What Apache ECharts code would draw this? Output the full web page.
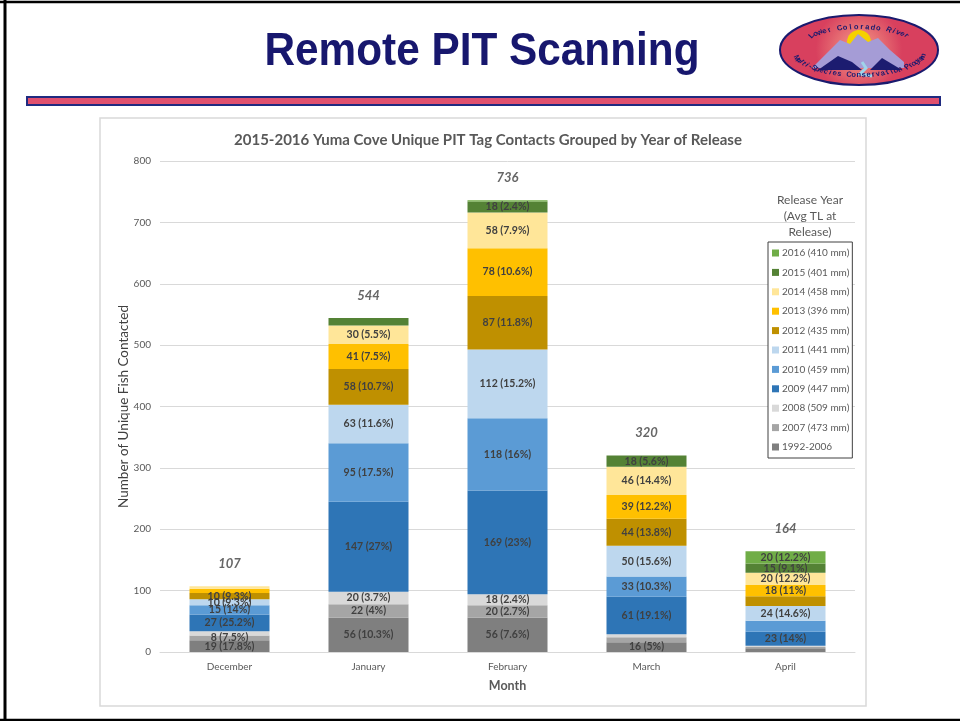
<!DOCTYPE html>
<html lang="en">
<head>
    <meta charset="UTF-8">
    <title>Remote PIT Scanning</title>
    <script src="https://cdn.jsdelivr.net/npm/echarts@6/dist/echarts.min.js"></script>
    <style>
        html, body { margin: 0; padding: 0; background: #fff; }
        #chart { width: 960px; height: 721px; }
    </style>
</head>
<body>
    <div id="chart"></div>
    <script>
        // months on the x axis
        const months = ['December', 'January', 'February', 'March', 'April'];

        // fish contacted per release group, one value per month
        const rel1992_2006 = [19, 56, 56, 16, 6];
        const rel2007 = [8, 22, 20, 8, 2];
        const rel2008 = [7, 20, 18, 5, 2];
        const rel2009 = [27, 147, 169, 61, 23];
        const rel2010 = [15, 95, 118, 33, 18];
        const rel2011 = [10, 63, 112, 50, 24];
        const rel2012 = [10, 58, 87, 44, 16];
        const rel2013 = [7, 41, 78, 39, 18];
        const rel2014 = [4, 30, 58, 46, 20];
        const rel2015 = [0, 12, 18, 18, 15];
        const rel2016 = [0, 0, 2, 0, 20];

        // legend names, bottom of the stack first
        const groupNames = [
            '1992-2006', '2007 (473 mm)', '2008 (509 mm)', '2009 (447 mm)', '2010 (459 mm)',
            '2011 (441 mm)', '2012 (435 mm)', '2013 (396 mm)', '2014 (458 mm)',
            '2015 (401 mm)', '2016 (410 mm)'
        ];
        const groupColors = [
            '#7f7f7f', '#a5a5a5', '#d9d9d9', '#2e75b6', '#5b9bd5',
            '#bdd7ee', '#bf9000', '#ffc000', '#ffe699', '#548235', '#70ad47'
        ];
        const groupValues = [rel1992_2006, rel2007, rel2008, rel2009, rel2010,
            rel2011, rel2012, rel2013, rel2014, rel2015, rel2016];

        // segments that carry no label in the original (group index, month index)
        const unlabeled = [
            [2, 0], [7, 0], [8, 0],
            [9, 1],
            [10, 2],
            [1, 3], [2, 3],
            [0, 4], [1, 4], [2, 4], [4, 4], [6, 4]
        ];

        const totals = months.map((m, i) => groupValues.reduce((s, arr) => s + arr[i], 0));

        function pct(v, total) {
            return String(Math.round(v / total * 1000) / 10);
        }

        const chart = echarts.init(document.getElementById('chart'));

        const barSeries = groupNames.map((name, g) => ({
            name: name,
            type: 'bar',
            stack: 'all',
            barWidth: 80,
            itemStyle: { color: groupColors[g] },
            data: groupValues[g].map((v, m) => {
                const hide = v === 0 || unlabeled.some(p => p[0] === g && p[1] === m);
                return { value: v, label: { show: !hide } };
            }),
            label: {
                position: 'inside',
                color: '#404040',
                fontSize: 10.5,
                fontWeight: 'bold',
                fontFamily: 'Lato',
                formatter: p => p.value + ' (' + pct(p.value, totals[p.dataIndex]) + '%)'
            }
        }));

        // total on top of each column
        barSeries.push({
            name: 'total',
            type: 'scatter',
            symbolSize: 0,
            data: totals,
            silent: true,
            label: {
                show: true,
                position: 'top',
                distance: 16,
                color: '#404040',
                fontSize: 13,
                fontStyle: 'italic',
                fontWeight: 'bold',
                fontFamily: 'Lato',
                formatter: p => String(p.value)
            }
        });

        // logo text placed letter by letter along the ellipse
        function arcText(text, cx, cy, rx, ry, a0, a1, top) {
            const out = [];
            const n = text.length;
            for (let i = 0; i < n; i++) {
                const a = a0 + (a1 - a0) * (i + 0.5) / n;
                const x = cx + rx * Math.cos(a);
                const y = cy + ry * Math.sin(a);
                const rot = top ? -(a + Math.PI / 2) : -(a - Math.PI / 2);
                out.push({
                    type: 'text', x: x, y: y, rotation: rot, z: 12,
                    style: {
                        text: text[i], fill: '#1a1a6e', font: 'bold 7.5px "Liberation Sans"',
                        textAlign: 'center', textVerticalAlign: 'middle'
                    }
                });
            }
            return out;
        }

        const logoCx = 859, logoCy = 50;

        const graphics = [
            // slide frame
            { type: 'line', shape: { x1: 0, y1: 2, x2: 960, y2: 2 }, style: { stroke: '#000', lineWidth: 2.5 } },
            { type: 'line', shape: { x1: 5, y1: 0, x2: 5, y2: 721 }, style: { stroke: '#000', lineWidth: 3 } },
            { type: 'line', shape: { x1: 0, y1: 720, x2: 960, y2: 720 }, style: { stroke: '#000', lineWidth: 2.5 } },
            // slide heading
            {
                type: 'text', x: 482, y: 52, scaleX: 0.92, scaleY: 1,
                style: {
                    text: 'Remote PIT Scanning', fill: '#17176e',
                    font: 'bold 46px "Liberation Sans"', textAlign: 'center', textVerticalAlign: 'middle'
                }
            },
            // red bar under heading
            {
                type: 'rect', shape: { x: 27, y: 97, width: 913, height: 8 },
                style: { fill: '#e0506e', stroke: '#1f2a80', lineWidth: 2 }
            },
            // chart area frame
            {
                type: 'rect', shape: { x: 100, y: 118, width: 766, height: 588 }, z: -1,
                style: { fill: '#fff', stroke: '#d9d9d9', lineWidth: 1.5 }
            },
            // legend heading
            {
                type: 'text', x: 810, y: 216,
                style: {
                    text: 'Release Year\n(Avg TL at\nRelease)', fill: '#595959',
                    font: '12px Lato', textAlign: 'center', textVerticalAlign: 'middle', lineHeight: 16
                }
            },
            // logo
            {
                type: 'ellipse', shape: { cx: logoCx, cy: logoCy, rx: 79, ry: 35 }, z: 10,
                style: {
                    fill: new echarts.graphic.RadialGradient(0.5, 0.5, 0.6, [
                        { offset: 0, color: '#f6a08a' },
                        { offset: 1, color: '#d8405e' }
                    ]),
                    stroke: '#1a1a6e', lineWidth: 2
                }
            },
            { type: 'circle', shape: { cx: logoCx, cy: logoCy - 8, r: 12 }, z: 11, style: { fill: '#f5d100' } },
            {
                type: 'polygon', z: 11,
                shape: { points: [[812, 68], [830, 50], [840, 40], [850, 44], [858, 34], [868, 42], [878, 38], [890, 50], [904, 62], [904, 68]] },
                style: { fill: '#a59cd6' }
            },
            {
                type: 'polygon', z: 11,
                shape: { points: [[818, 70], [838, 56], [852, 62], [862, 70]] },
                style: { fill: '#1c1c70' }
            },
            {
                type: 'polygon', z: 11,
                shape: { points: [[870, 70], [882, 58], [892, 64], [902, 70]] },
                style: { fill: '#1c1c70' }
            },
            {
                type: 'polyline', z: 11,
                shape: { points: [[862, 62], [866, 68], [860, 74], [872, 76]] },
                style: { stroke: '#9fd4ea', lineWidth: 3, fill: null }
            }
        ].concat(
            arcText('Lower Colorado River', logoCx, logoCy + 3, 64, 26, -Math.PI * 0.78, -Math.PI * 0.22, true),
            arcText('Multi-Species Conservation Program', logoCx, logoCy - 3, 68, 28, Math.PI * 0.88, Math.PI * 0.1, false)
        );

        const option = {
            animation: false,
            backgroundColor: '#fff',
            textStyle: { fontFamily: 'Lato' },
            title: {
                text: '2015-2016 Yuma Cove Unique PIT Tag Contacts Grouped by Year of Release',
                left: 483, top: 128, textAlign: 'center',
                textStyle: { color: '#595959', fontSize: 15, fontWeight: 'bold', fontFamily: 'Lato' }
            },
            legend: {
                data: groupNames.slice().reverse(),
                orient: 'vertical',
                left: 768, top: 242,
                padding: [6, 3, 6, 4],
                itemWidth: 7, itemHeight: 7, itemGap: 9.4,
                icon: 'rect',
                borderColor: '#404040', borderWidth: 1,
                backgroundColor: '#fff',
                textStyle: { color: '#595959', fontSize: 10, fontFamily: 'Lato', padding: [0, 0, 0, -2] }
            },
            grid: { left: 160, right: 105, top: 161, bottom: 69 },
            xAxis: {
                type: 'category',
                data: months,
                name: 'Month',
                nameLocation: 'middle',
                nameGap: 27,
                nameTextStyle: { color: '#595959', fontSize: 12.5, fontWeight: 'bold' },
                axisLine: { lineStyle: { color: '#d9d9d9' } },
                axisTick: { show: false },
                axisLabel: { color: '#595959', fontSize: 10, margin: 10 }
            },
            yAxis: {
                type: 'value',
                min: 0, max: 800, interval: 100,
                name: 'Number of Unique Fish Contacted',
                nameLocation: 'middle',
                nameGap: 29,
                nameMoveOverlap: false,
                nameTextStyle: { color: '#404040', fontSize: 13.5 },
                axisLine: { show: false },
                axisTick: { show: false },
                axisLabel: { color: '#595959', fontSize: 10, margin: 9 },
                splitLine: { lineStyle: { color: '#d9d9d9' } }
            },
            graphic: graphics,
            series: barSeries
        };

        chart.setOption(option);
    </script>
</body>
</html>
